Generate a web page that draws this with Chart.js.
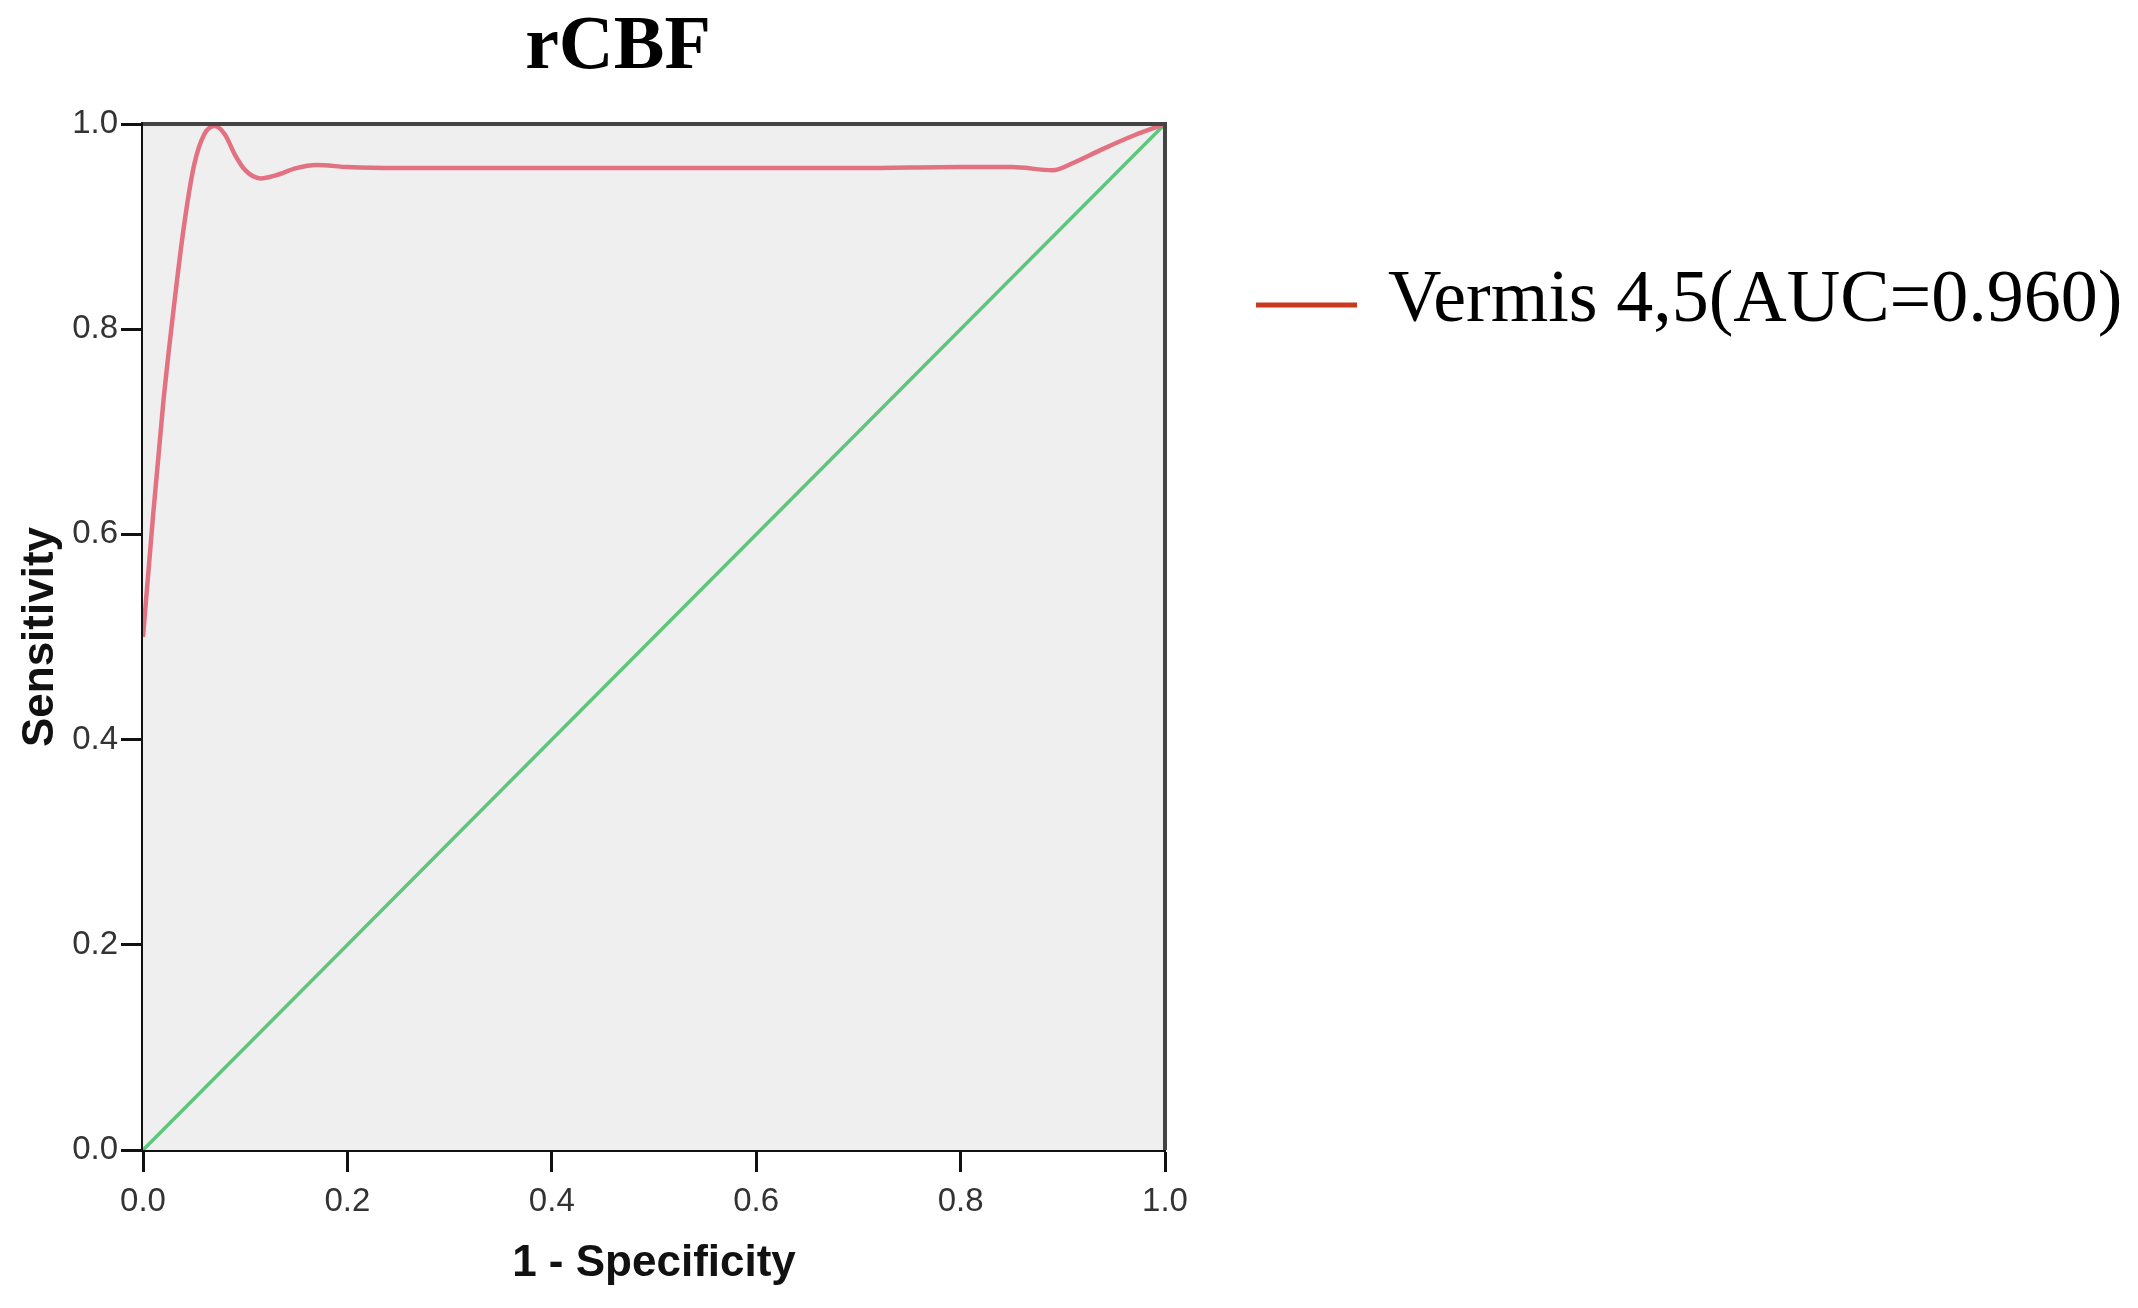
<!DOCTYPE html>
<html>
<head>
<meta charset="utf-8">
<title>rCBF ROC</title>
<script src="https://cdn.jsdelivr.net/npm/chart.js@4.4.0/dist/chart.umd.min.js"></script>
<style>
  html, body { margin: 0; padding: 0; background: #fff; }
  #wrap { width: 2138px; height: 1308px; }
</style>
</head>
<body>
<div id="wrap"><canvas id="grafico" width="2138" height="1308"></canvas></div>
<script>
// dados
const fpr = [0, 0.01, 0.02, 0.03, 0.04, 0.05, 0.06, 0.07, 0.08, 0.09, 0.10, 0.115, 0.13, 0.15, 0.17, 0.20, 0.25, 0.30, 0.40, 0.50, 0.60, 0.70, 0.80, 0.85, 0.89, 0.91, 0.94, 0.97, 1.0];
const tpr = [0.50, 0.62, 0.73, 0.82, 0.90, 0.96, 0.99, 0.998, 0.99, 0.97, 0.955, 0.947, 0.950, 0.957, 0.960, 0.958, 0.957, 0.957, 0.957, 0.957, 0.957, 0.957, 0.958, 0.958, 0.955, 0.962, 0.976, 0.989, 1.0];
const refX = [0, 1];
const refY = [0, 1];
const ticksEixo = [0, 0.2, 0.4, 0.6, 0.8, 1.0];

const titulo = "rCBF";
const rotuloCurva = "Vermis 4,5(AUC=0.960)";
const corCurva = "#e27282";
const corLegenda = "#c8391e";
const corRef = "#5ec67c";

function pontos(xs, ys) {
  return xs.map((x, i) => ({ x: x, y: ys[i] }));
}

// fundo cinza, moldura, titulo e legenda
const extras = {
  id: "extras",
  beforeDatasetsDraw(chart) {
    const { ctx, chartArea: a } = chart;
    ctx.save();
    ctx.fillStyle = "#efefef";
    ctx.fillRect(a.left, a.top, a.right - a.left, a.bottom - a.top);
    ctx.restore();
  },
  afterDraw(chart) {
    const { ctx, chartArea: a } = chart;
    ctx.save();
    // moldura de cima e da direita
    ctx.strokeStyle = "#444";
    ctx.lineWidth = 4;
    ctx.beginPath();
    ctx.moveTo(a.left, a.top);
    ctx.lineTo(a.right, a.top);
    ctx.lineTo(a.right, a.bottom);
    ctx.stroke();

    // titulo
    ctx.fillStyle = "#000";
    ctx.font = "bold 76px 'Liberation Serif', 'Times New Roman', serif";
    ctx.textAlign = "center";
    ctx.textBaseline = "middle";
    ctx.fillText(titulo, a.left + 475, 48);

    // legenda
    const ds = chart.data.datasets[0];
    ctx.strokeStyle = corLegenda;
    ctx.lineWidth = 5;
    ctx.beginPath();
    ctx.moveTo(a.right + 91, 305);
    ctx.lineTo(a.right + 192, 305);
    ctx.stroke();
    ctx.font = "74px 'Liberation Serif', 'Times New Roman', serif";
    ctx.textAlign = "left";
    ctx.fillText(ds.label, a.right + 223, 302);
    ctx.restore();
  }
};

function eixo(tituloEixo, pad) {
  return {
    type: "linear",
    min: 0,
    max: 1,
    afterBuildTicks: s => { s.ticks = ticksEixo.map(v => ({ value: v })); },
    ticks: {
      color: "#333",
      font: { family: "'Liberation Sans', Arial, sans-serif", size: 33 },
      padding: pad,
      callback: v => Number(v).toFixed(1),
      maxRotation: 0
    },
    grid: {
      drawOnChartArea: false,
      drawTicks: true,
      tickLength: 22,
      tickWidth: 3,
      tickColor: "#111"
    },
    border: { display: true, color: "#111", width: 4 },
    title: {
      display: true,
      text: tituloEixo,
      color: "#111",
      font: { family: "'Liberation Sans', Arial, sans-serif", size: 44, weight: "bold" }
    }
  };
}

const escalaX = eixo("1 - Specificity", 10);
escalaX.title.padding = { top: 0, bottom: 18 };
escalaX.afterFit = s => { s.height = 158; };

const escalaY = eixo("Sensitivity", 3);
escalaY.title.padding = { top: 14, bottom: 0 };
escalaY.afterFit = s => { s.width = 143; };

new Chart(document.getElementById("grafico").getContext("2d"), {
  type: "line",
  data: {
    datasets: [
      {
        label: rotuloCurva,
        data: pontos(fpr, tpr),
        borderColor: corCurva,
        borderWidth: 4.5,
        pointRadius: 0,
        cubicInterpolationMode: "monotone",
        fill: false
      },
      {
        label: "Reference",
        data: pontos(refX, refY),
        borderColor: corRef,
        borderWidth: 3.5,
        pointRadius: 0,
        fill: false
      }
    ]
  },
  options: {
    responsive: false,
    animation: false,
    devicePixelRatio: 1,
    layout: { padding: { top: 124, right: 973, bottom: 0, left: 0 } },
    plugins: {
      legend: { display: false },
      title: { display: false },
      tooltip: { enabled: false }
    },
    scales: { x: escalaX, y: escalaY }
  },
  plugins: [extras]
});
</script>
</body>
</html>
